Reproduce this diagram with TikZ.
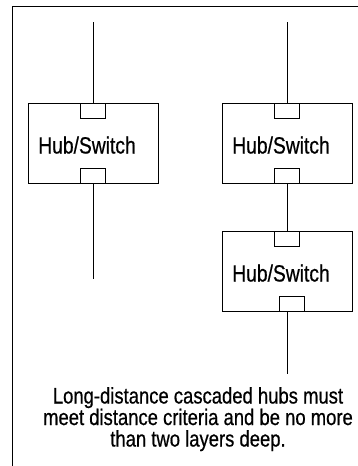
\documentclass[tikz,border=0pt]{standalone}
\usepackage{fontspec}
\setmainfont{Liberation Sans}[FakeStretch=0.82, FakeBold=0.6]
\usetikzlibrary{positioning}
\tikzset{
    hub/.style={rectangle, draw, minimum width=130pt, minimum height=80pt, inner sep=0pt, outer sep=0pt, line width=1pt},
    port/.style={rectangle, draw, fill=white, minimum width=25pt, minimum height=15pt, inner sep=0pt, outer sep=0pt, line width=1pt},
    hubtext/.style={anchor=base, inner sep=0pt, font=\fontsize{23.5}{24}\selectfont},
    cable/.style={line width=1pt},
    note/.style={align=center, anchor=north, inner sep=0pt, font=\fontsize{22.5}{21.5}\selectfont}
}

\begin{document}
\begin{tikzpicture}[x=1pt, y=-1pt]
  \useasboundingbox (0,0) rectangle (357,466);
  % frame
  \draw[cable] (12,480) -- (12,6) -- (370,6);
  % hubs
  \node[hub] (h1) at (93,143) {};
  \node[hub] (h2) at (287,143) {};
  \node[hub] (h3) at (287,271) {};
  \node[hubtext] (h1text) at ([xshift=-6pt, yshift=-10.5pt]h1.center) {Hub/Switch};
  \node[hubtext] (h2text) at ([xshift=-6pt, yshift=-10.5pt]h2.center) {Hub/Switch};
  \node[hubtext] (h3text) at ([xshift=-6pt, yshift=-10.5pt]h3.center) {Hub/Switch};
  % ports
  \node[port, anchor=north] (h1in) at (h1.north) {};
  \node[port, anchor=south] (h1out) at (h1.south) {};
  \node[port, anchor=north] (h2in) at (h2.north) {};
  \node[port, anchor=south] (h2out) at (h2.south) {};
  \node[port, anchor=north] (h3in) at (h3.north) {};
  \node[port, anchor=south] (h3out) at ([xshift=4.5pt]h3.south) {};
  % cables
  \coordinate (t1) at (93,22);
  \coordinate (b1) at (93,279);
  \coordinate (t2) at (287,22);
  \coordinate (b3) at (287,374);
  \draw[cable] (t1) -- (h1in);
  \draw[cable] (h1out) -- (b1);
  \draw[cable] (t2) -- (h2in);
  \draw[cable] (h2out) -- (h3in);
  \draw[cable] (h3out.south -| b3) -- (b3);
  % caption
  \node[note] (caption) at (198,387) {Long-distance cascaded hubs must\\meet distance criteria and be no more\\than two layers deep.};
\end{tikzpicture}
\end{document}
